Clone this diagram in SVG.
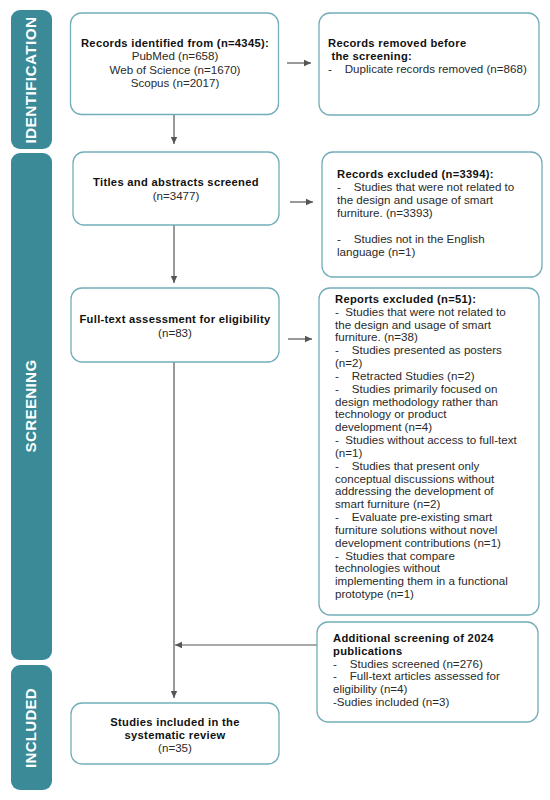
<svg xmlns="http://www.w3.org/2000/svg" width="550" height="800" viewBox="0 0 550 800">
<style>
.bar{fill:#3a8a97}
.lbl{font-family:"Liberation Sans",Arial,sans-serif;font-weight:bold;font-size:14px;fill:#ffffff;text-anchor:middle;letter-spacing:0.3px}
.box{fill:#ffffff;stroke:#72adb9;stroke-width:1.3}
.t{font-family:"Liberation Sans",Arial,sans-serif;font-size:11.6px;fill:#2a2a2a;white-space:pre}
.b{font-weight:bold;font-size:11.2px;fill:#111111;letter-spacing:0.3px}
.c{text-anchor:middle}
.ln{stroke:#555555;stroke-width:1.2;fill:none}
</style>
<defs>
<marker id="ah" markerWidth="8" markerHeight="8" refX="7" refY="4" orient="auto" markerUnits="userSpaceOnUse">
<path d="M0,0.8 L7,4 L0,7.2 Z" fill="#555555"/>
</marker>
</defs>
<rect width="550" height="800" fill="#ffffff"/>

<g id="phase-identification">
<rect class="bar" x="11" y="10" width="41" height="139" rx="9"/>
<text class="lbl" transform="translate(36,80) rotate(-90)" textLength="127" lengthAdjust="spacingAndGlyphs">IDENTIFICATION</text>
</g>
<g id="phase-screening">
<rect class="bar" x="11" y="153" width="41" height="507" rx="9"/>
<text class="lbl" transform="translate(36,406) rotate(-90)" textLength="93" lengthAdjust="spacingAndGlyphs">SCREENING</text>
</g>
<g id="phase-included">
<rect class="bar" x="11" y="665" width="41" height="125" rx="9"/>
<text class="lbl" transform="translate(36,728) rotate(-90)" textLength="80" lengthAdjust="spacingAndGlyphs">INCLUDED</text>
</g>

<g id="connectors">
<line class="ln" x1="174" y1="115" x2="174" y2="144" marker-end="url(#ah)"/>
<line class="ln" x1="174" y1="225" x2="174" y2="283" marker-end="url(#ah)"/>
<line class="ln" x1="174" y1="362" x2="174" y2="698" marker-end="url(#ah)"/>
<line class="ln" x1="287" y1="63" x2="311" y2="63" marker-end="url(#ah)"/>
<line class="ln" x1="290" y1="202" x2="313" y2="202" marker-end="url(#ah)"/>
<line class="ln" x1="288" y1="339" x2="312" y2="339" marker-end="url(#ah)"/>
<line class="ln" x1="317" y1="645" x2="175" y2="645" marker-end="url(#ah)"/>
</g>

<g id="records-identified">
<rect class="box" x="70.5" y="13" width="208" height="101.5" rx="11"/>
<text class="t c" x="175" y="47" xml:space="preserve"><tspan class="b" x="175">Records identified from (n=4345):</tspan><tspan x="175" dy="13.3">PubMed (n=658)</tspan><tspan x="175" dy="13.3">Web of Science (n=1670)</tspan><tspan x="175" dy="13.3">Scopus (n=2017)</tspan></text>
</g>

<g id="records-removed">
<rect class="box" x="319" y="13" width="220" height="102" rx="11"/>
<text class="t" x="328" y="47" xml:space="preserve"><tspan class="b" x="328">Records removed before</tspan><tspan class="b" x="328" dy="12.8"> the screening:</tspan><tspan x="328" dy="13">-    Duplicate records removed (n=868)</tspan></text>
</g>

<g id="titles-screened">
<rect class="box" x="73" y="152" width="206" height="73" rx="11"/>
<text class="t c" x="176" y="186" xml:space="preserve"><tspan class="b" x="176">Titles and abstracts screened</tspan><tspan x="176" dy="13.5">(n=3477)</tspan></text>
</g>

<g id="records-excluded">
<rect class="box" x="322" y="152" width="220" height="125" rx="11"/>
<text class="t" x="337" y="178" xml:space="preserve"><tspan class="b" x="337">Records excluded (n=3394):</tspan><tspan x="337" dy="13">-    Studies that were not related to</tspan><tspan x="337" dy="13">the design and usage of smart</tspan><tspan x="337" dy="13">furniture. (n=3393)</tspan><tspan x="337" dy="25.5">-    Studies not in the English</tspan><tspan x="337" dy="13">language (n=1)</tspan></text>
</g>

<g id="full-text">
<rect class="box" x="71" y="288" width="208" height="74" rx="11"/>
<text class="t c" x="175" y="323" xml:space="preserve"><tspan class="b" x="175">Full-text assessment for eligibility</tspan><tspan x="175" dy="13.5">(n=83)</tspan></text>
</g>

<g id="reports-excluded">
<rect class="box" x="319" y="288" width="220" height="327" rx="11"/>
<text class="t" x="335" y="303" xml:space="preserve"><tspan class="b" x="335">Reports excluded (n=51):</tspan><tspan x="335" dy="12.83">-  Studies that were not related to</tspan><tspan x="335" dy="12.83">the design and usage of smart</tspan><tspan x="335" dy="12.83">furniture. (n=38)</tspan><tspan x="335" dy="12.83">-    Studies presented as posters</tspan><tspan x="335" dy="12.83">(n=2)</tspan><tspan x="335" dy="12.83">-    Retracted Studies (n=2)</tspan><tspan x="335" dy="12.83">-    Studies primarily focused on</tspan><tspan x="335" dy="12.83">design methodology rather than</tspan><tspan x="335" dy="12.83">technology or product</tspan><tspan x="335" dy="12.83">development (n=4)</tspan><tspan x="335" dy="12.83">-  Studies without access to full-text</tspan><tspan x="335" dy="12.83">(n=1)</tspan><tspan x="335" dy="12.83">-    Studies that present only</tspan><tspan x="335" dy="12.83">conceptual discussions without</tspan><tspan x="335" dy="12.83">addressing the development of</tspan><tspan x="335" dy="12.83">smart furniture (n=2)</tspan><tspan x="335" dy="12.83">-    Evaluate pre-existing smart</tspan><tspan x="335" dy="12.83">furniture solutions without novel</tspan><tspan x="335" dy="12.83">development contributions (n=1)</tspan><tspan x="335" dy="12.83">-  Studies that compare</tspan><tspan x="335" dy="12.83">technologies without</tspan><tspan x="335" dy="12.83">implementing them in a functional</tspan><tspan x="335" dy="12.83">prototype (n=1)</tspan></text>
</g>

<g id="additional-screening">
<rect class="box" x="317" y="622" width="221" height="100" rx="11"/>
<text class="t" x="333" y="642" xml:space="preserve"><tspan class="b" x="333">Additional screening of 2024</tspan><tspan class="b" x="333" dy="12.8">publications</tspan><tspan x="333" dy="12.8">-    Studies screened (n=276)</tspan><tspan x="333" dy="12.8">-    Full-text articles assessed for</tspan><tspan x="333" dy="12.8">eligibility (n=4)</tspan><tspan x="333" dy="12.8">-Sudies included (n=3)</tspan></text>
</g>

<g id="studies-included">
<rect class="box" x="71" y="703" width="208" height="61" rx="11"/>
<text class="t c" x="175" y="726" xml:space="preserve"><tspan class="b" x="175">Studies included in the</tspan><tspan class="b" x="175" dy="13">systematic review</tspan><tspan x="175" dy="13">(n=35)</tspan></text>
</g>
</svg>
